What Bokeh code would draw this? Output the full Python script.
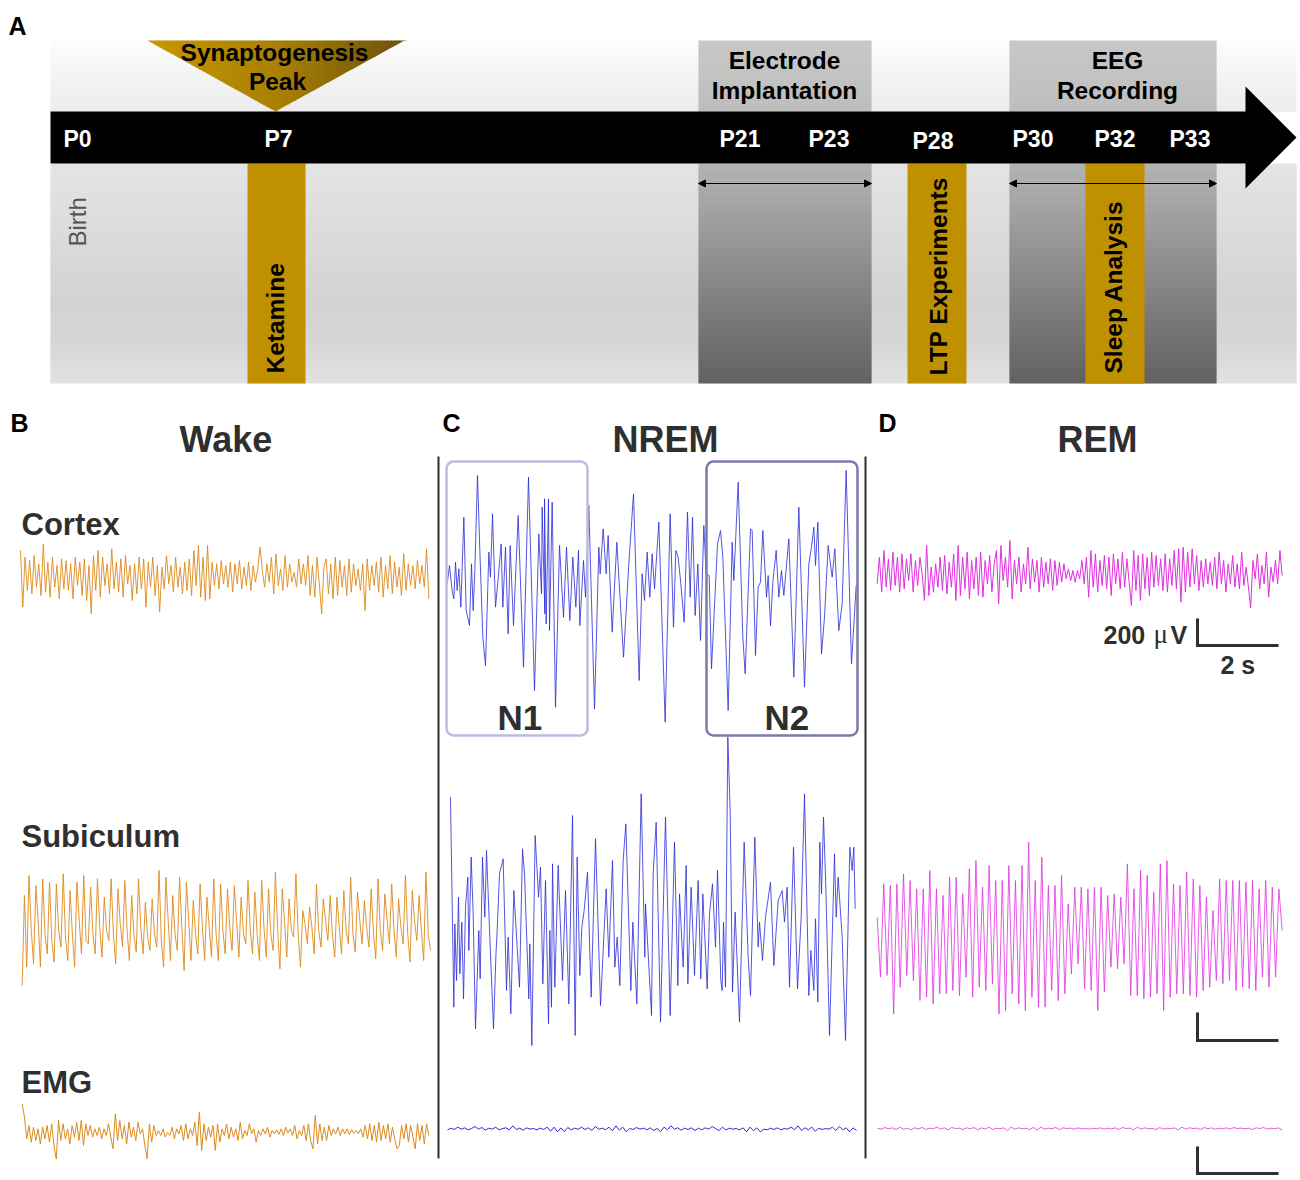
import numpy as np
from bokeh.core.properties import value
from bokeh.embed import file_html
from bokeh.models import Arrow, NormalHead, Range1d
from bokeh.plotting import figure
from bokeh.resources import INLINE

# ---- traces at 3x (t: along the trace, v: downwards) ----
nrem_cortex_t = [35,42,50,55,60,65,70,76,85,92,102,108,113,118,126,133,142,150,160,165,171,180,187,197,202,210,218,224,234,248,264,279,297,310,318,320,328,327,332,339,342,350,360,372,384,393,403,412,421,429,433,444,450,460,477,490,494,503,512,518,530,544,564,580,594,611,620,627,635,643,650,657,670,689,704,714,721,728,736,746,756,764,771,779,787,795,805,812,821,828,846,855,862,878,890,895,908,922,929,945,950,960,968,975,982,993,998,1005,1012,1022,1030,1038,1045,1060,1075,1090,1107,1120,1128,1135,1140,1147,1158,1167,1178,1190,1198,1210,1220,1232,1248,1262]
nrem_cortex_v = [400,345,420,445,335,420,355,470,200,480,525,340,480,360,75,300,560,645,305,380,190,470,395,280,470,290,550,285,525,195,650,80,720,250,430,170,490,145,520,145,540,155,770,285,500,290,510,320,470,300,525,330,440,165,775,290,370,235,370,255,545,275,620,340,130,690,370,450,305,440,310,415,215,815,190,530,300,320,400,515,185,440,200,495,340,570,225,370,375,655,280,240,320,780,275,390,95,560,670,235,240,615,410,395,240,440,375,525,395,300,440,360,435,265,680,170,710,340,290,230,345,215,610,500,285,380,295,540,460,60,640,405]

nrem_sub_t = [45,47,55,58,63,69,73,79,84,90,97,100,107,113,120,130,134,141,148,153,163,174,181,185,192,203,213,218,226,235,252,261,267,280,283,289,299,309,315,322,330,339,343,348,351,358,368,381,390,400,411,419,425,433,439,446,456,467,480,495,512,520,531,538,545,553,563,571,586,592,604,617,628,630,648,653,662,675,690,704,717,727,732,743,752,757,767,777,788,796,802,815,822,831,840,846,856,860,864,870,877,884,891,899,912,926,938,945,958,968,972,981,990,1005,1015,1028,1040,1047,1055,1062,1074,1086,1097,1107,1120,1126,1135,1140,1147,1153,1158,1164,1171,1182,1197,1202,1208,1220,1230,1243,1250,1255,1259]
nrem_sub_v = [170,300,800,550,720,470,700,545,775,500,410,630,350,520,865,570,715,350,530,330,590,865,650,570,400,355,750,590,820,450,740,325,400,775,610,915,285,470,380,730,420,850,570,800,370,740,375,720,450,790,225,885,350,705,560,510,395,770,295,795,445,650,360,680,590,735,360,250,750,545,790,160,650,490,825,400,245,845,230,825,305,735,460,680,375,730,440,705,420,715,460,745,520,430,620,390,720,750,545,740,-10,215,755,515,845,305,650,765,290,620,545,660,530,425,675,480,450,545,440,740,320,745,530,160,765,630,750,535,785,305,460,230,440,885,340,530,410,590,900,320,390,320,505]

wake_cortex_v = [150,320,170,270,180,280,165,260,190,285,130,275,185,290,170,260,195,295,175,265,180,270,190,295,170,255,185,285,175,300,195,340,165,270,150,290,170,255,190,280,145,265,185,275,175,290,165,250,195,300,190,280,170,265,175,320,185,260,170,285,195,335,200,265,165,250,195,275,170,260,200,280,185,270,175,285,150,255,135,290,170,300,135,295,185,255,190,265,180,250,195,260,185,275,190,250,180,265,200,255,185,270,195,245,205,140,210,260,190,245,170,280,160,255,205,270,165,260,190,245,215,260,175,250,190,255,165,285,195,290,170,250,340,200,175,280,190,295,170,285,180,260,195,285,175,275,190,255,205,270,190,330,175,270,195,255,185,275,170,290,195,265,165,280,185,260,200,285,160,270,190,255,195,265,180,250,195,260,145,295]

wake_sub_v = [495,225,440,165,330,430,195,300,440,175,340,400,185,360,425,190,330,380,160,350,420,210,340,440,185,300,400,165,360,370,200,340,400,175,320,410,230,330,360,175,340,430,205,310,380,180,330,420,225,345,395,175,320,400,245,350,390,235,340,380,150,360,440,170,300,420,225,340,390,170,320,450,185,300,420,240,340,400,190,320,420,230,320,410,175,340,420,190,330,400,205,320,390,195,300,410,230,340,370,180,330,400,215,340,420,180,320,410,205,340,390,155,330,445,205,300,410,235,330,350,160,340,440,270,310,370,260,320,400,190,330,380,235,300,360,225,340,410,230,320,400,210,330,370,170,340,395,215,300,370,240,320,380,205,340,415,175,330,390,220,300,370,190,330,410,235,320,370,165,340,425,210,300,360,225,330,420,155,340,390]

wake_emg_v = [130,170,235,195,245,200,240,205,250,200,235,195,245,190,255,295,180,240,190,235,205,250,195,230,185,240,180,255,190,225,195,230,205,225,200,235,205,225,190,230,265,160,240,180,235,195,250,185,230,200,240,185,220,205,255,295,190,245,195,225,210,225,205,230,215,225,200,235,205,220,195,240,190,235,205,225,185,255,155,270,190,240,200,230,195,270,190,245,205,225,190,235,200,230,205,240,185,235,210,225,190,220,205,245,210,225,205,220,200,230,210,220,208,222,205,225,200,218,205,225,195,235,210,225,195,240,190,240,265,165,250,190,240,200,240,195,225,205,220,200,225,205,220,205,222,208,218,210,220,205,230,195,235,190,240,195,245,185,240,195,235,190,245,200,235,265,255,195,235,190,245,195,230,265,190,240,195,250,190,225]

nrem_emg_v = [118,113,117,110,116,112,118,114,108,116,111,119,113,116,110,118,114,112,118,106,117,113,119,112,116,114,118,113,117,110,122,110,124,112,123,111,118,113,116,110,117,112,120,108,116,113,118,110,121,106,119,110,124,114,117,111,116,113,118,112,120,114,124,110,118,106,116,112,119,113,117,112,120,113,118,112,116,108,114,120,110,118,113,116,114,118,112,124,110,120,112,124,116,118,113,117,112,118,114,116,110,118,106,120,112,118,110,122,113,117,114,116,110,120,108,118,112,124,112,120]

rem_cortex_v = [190,110,215,90,200,115,210,95,195,110,215,100,205,115,180,100,215,120,195,110,160,240,75,225,140,215,130,200,110,210,105,220,125,200,100,240,75,225,110,205,95,235,120,205,110,225,95,230,120,190,105,215,130,90,250,75,180,110,200,60,235,120,190,110,215,130,190,80,205,115,185,120,215,110,200,125,190,115,210,120,195,125,185,130,175,145,180,150,185,150,175,120,190,110,230,90,200,100,215,120,195,105,205,110,225,100,190,115,205,95,200,115,185,255,90,210,105,240,100,205,110,225,95,200,105,195,115,210,100,215,115,195,90,205,85,245,80,215,95,200,85,190,105,210,120,200,115,190,125,195,110,205,95,190,120,215,130,190,105,200,130,205,95,195,140,200,262,120,175,100,205,135,190,95,230,140,185,120,190,90,165]

rem_sub_v = [260,440,160,435,165,550,160,470,130,435,150,450,175,510,175,500,120,520,175,490,195,490,140,480,140,495,190,440,115,500,90,470,170,480,105,460,150,550,150,540,105,490,150,520,105,540,35,500,150,530,80,530,165,480,165,510,135,490,220,430,170,400,170,475,175,480,170,540,170,485,195,410,190,415,200,400,100,495,175,495,120,505,135,500,185,490,100,540,90,500,160,490,165,490,125,495,145,500,165,480,200,470,240,450,145,460,150,450,150,480,150,470,155,475,150,480,175,440,150,470,170,440,175,300]

rem_emg_v = [113,116,111,115,112,117,110,116,113,118,112,115,111,117,113,115,110,116,112,118,111,114,113,117,112,115,111,118,112,116,110,117,113,115,112,121,110,116,112,115,113,117,111,118,110,116,113,115,111,117,112,114,113,116,112,115,114,116,113,115,112,116,113,115,112,117,111,114,113,118,110,116,112,115,114,117,111,116,113,115,112,118,110,116,112,114,113,117,111,115,112,116,113,115,112,116,111,114,113,115,113,117,112,114,111,116,113,115,112,118]

# ---- texts ----
timeline_labels = ["P0", "P7", "P21", "P23", "P28", "P30", "P32", "P33"]
state_labels = ["Wake", "NREM", "REM"]
site_labels = ["Cortex", "Subiculum", "EMG"]
panel_labels = ["A", "B", "C", "D"]

ORANGE, BLUE, MAGENTA = "#dc8a1c", "#2a2ad8", "#e030e0"
DARK, GOLD = "#2f2f2f", "#bf9000"
FONT = "Liberation Sans"
PX0, PY0 = 0, 0
W, H = 1300, 1180

p = figure(width=W, height=H, x_range=Range1d(PX0, PX0 + W), y_range=Range1d(PY0 + H, PY0),
           toolbar_location=None, output_backend="svg", min_border=0, outline_line_color=None)
p.axis.visible = False
p.grid.visible = False


def stops(y0, y1, ys, shades):
    edges = np.arange(y0, y1, 2.0)
    g = np.interp(edges + 1, ys, shades).astype(int)
    return edges, [f"#{c:02x}{c:02x}{c:02x}" for c in g]


def gradient(x0, x1, y0, y1, ys, shades):
    e, c = stops(y0, y1, ys, shades)
    p.quad(left=x0, right=x1, top=e, bottom=np.minimum(e + 3, y1), fill_color=c, line_color=None)


def label(x, y, s, size=24.5, bold=True, color="black", align="left", angle=0.0, font=FONT):
    # x, y: the start of the baseline; the text is hung by its middle
    drop = 0.34 * size
    if angle:
        x -= drop
    else:
        y -= drop
    p.text([x], [y], text=[s], text_font=value(font), text_font_size=f"{size}px",
           text_font_style="bold" if bold else "normal", text_color=color, text_align=align,
           text_baseline="middle", angle=angle)


# panel A
gradient(50, 1296, 40, 111, [40, 111], [253, 236])
gradient(50, 1296, 163, 383, [163, 300, 340, 383], [229, 211, 214, 226])
for a, b in [(698, 871), (1009, 1216)]:
    gradient(a, b, 40, 111, [40, 111], [200, 190])
    gradient(a, b, 163, 383, [163, 383], [180, 98])
for a, b in [(247, 305), (907, 966), (1085, 1144)]:
    p.quad(left=a, right=b, top=163, bottom=383, fill_color=GOLD, line_color=None)

tx = np.arange(147, 404, 4.0)
tc = []
for x in tx:
    f = np.interp(x + 2, [147, 280, 404], [0, 0.35, 1])
    rgb = (np.array([200, 152, 0]) * (1 - f) + np.array([110, 82, 12]) * f).astype(int)
    tc.append("#%02x%02x%02x" % tuple(rgb))
tb = np.interp(tx, [147, 275, 404], [40, 111, 40])
tb2 = np.interp(tx + 4.6, [147, 275, 404], [40, 111, 40])
p.patches([[x, x + 4.6, x + 4.6, x] for x in tx], [[40, 40, b2, b] for b, b2 in zip(tb, tb2)],
          fill_color=tc, line_color=None)

p.patch([50, 1245, 1245, 1296, 1245, 1245, 50], [111, 111, 86, 137, 188, 163, 163],
        fill_color="black", line_color=None)

for s, x, y in zip(timeline_labels, [63, 264, 719, 808, 912, 1012, 1094, 1169],
                   [146, 146, 146, 146, 148, 146, 146, 146]):
    label(x, y, s, 23, color="white")

label(274, 60, "Synaptogenesis", align="center")
label(277, 89, "Peak", align="center")
label(784, 68, "Electrode", align="center")
label(784, 98, "Implantation", align="center")
label(1117, 68, "EEG", align="center")
label(1117, 98, "Recording", align="center")
label(283, 373, "Ketamine", angle=np.pi / 2)
label(946, 375, "LTP Experiments", angle=np.pi / 2)
label(1121, 373, "Sleep Analysis", angle=np.pi / 2)
label(85, 246, "Birth", 24, bold=False, color="#555555", angle=np.pi / 2)

for a, b in [(698, 871), (1009, 1216)]:
    p.add_layout(Arrow(x_start=a, x_end=b, y_start=183, y_end=183, line_color="black", line_width=1,
                       start=NormalHead(size=7, fill_color="black", line_color="black"),
                       end=NormalHead(size=7, fill_color="black", line_color="black")))

# panel letters and headings
for s, x, y in zip(panel_labels, [8, 10, 442, 878], [34, 431, 431, 431]):
    label(x, y, s, 25)
for s, x in zip(state_labels, [179, 612, 1057]):
    label(x, 451, s, 36, color=DARK)
for s, y in zip(site_labels, [535, 847, 1093]):
    label(21, y, s, 31, color=DARK)

# separators
for x in (438, 865):
    p.line([x, x], [456, 1158], line_color=DARK, line_width=2)


# traces: each has its own pair of ranges, in the units it was read in
def trace(name, t, v, ox, oy, color, width=0.8, alpha=1.0):
    p.extra_x_ranges[name] = Range1d((PX0 - ox) * 3, (PX0 + W - ox) * 3)
    p.extra_y_ranges[name] = Range1d((PY0 + H - oy) * 3, (PY0 - oy) * 3)
    p.line(t, v, x_range_name=name, y_range_name=name, line_color=color, line_width=width,
           line_alpha=alpha, line_join="miter")


def even(v, a, b):
    return np.linspace(a, b, len(v))


trace("wc", even(wake_cortex_v, 60, 1285), wake_cortex_v, 0, 500, ORANGE, 0.9)
trace("ws", even(wake_sub_v, 65, 1290), wake_sub_v, 0, 820, ORANGE, 0.9)
trace("we", even(wake_emg_v, 65, 1285), wake_emg_v, 0, 1060, ORANGE, 1.0)
trace("nc", nrem_cortex_t, nrem_cortex_v, 435, 450, BLUE)
trace("ns", nrem_sub_t, nrem_sub_v, 435, 740, BLUE)
trace("ne", even(nrem_emg_v, 36, 1263), nrem_emg_v, 435, 1090, BLUE, 1.0)
trace("rc", even(rem_cortex_v, 35, 1250), rem_cortex_v, 865, 520, MAGENTA, 1.0)
trace("rs", even(rem_sub_v, 35, 1250), rem_sub_v, 865, 830, MAGENTA, 0.8)
trace("re", even(rem_emg_v, 36, 1250), rem_emg_v, 865, 1090, MAGENTA, 0.8)

# N1 / N2 boxes
p.quad(left=446, right=587, top=461, bottom=735, fill_color=None, line_color="#bcbce0",
       line_width=2.5, border_radius=7)
p.quad(left=706, right=857, top=461, bottom=735, fill_color=None, line_color="#7c7aa8",
       line_width=2.5, border_radius=7)
label(497, 729, "N1", 35, color=DARK)
label(764, 729, "N2", 35, color=DARK)

# scale bars
for top, bottom in [(618, 645), (1012, 1040), (1146, 1173)]:
    p.line([1197, 1197, 1278], [top, bottom, bottom], line_color=DARK, line_width=3,
           line_join="miter")
label(1103, 643, "200", 25, color=DARK)
label(1153, 643, "\u03bc", 27, bold=False, color=DARK, font="Liberation Serif")
label(1170, 643, "V", 25, color=DARK)
label(1220, 673, "2 s", 25, color=DARK)

open("out.html", "w").write(file_html(p, INLINE))
